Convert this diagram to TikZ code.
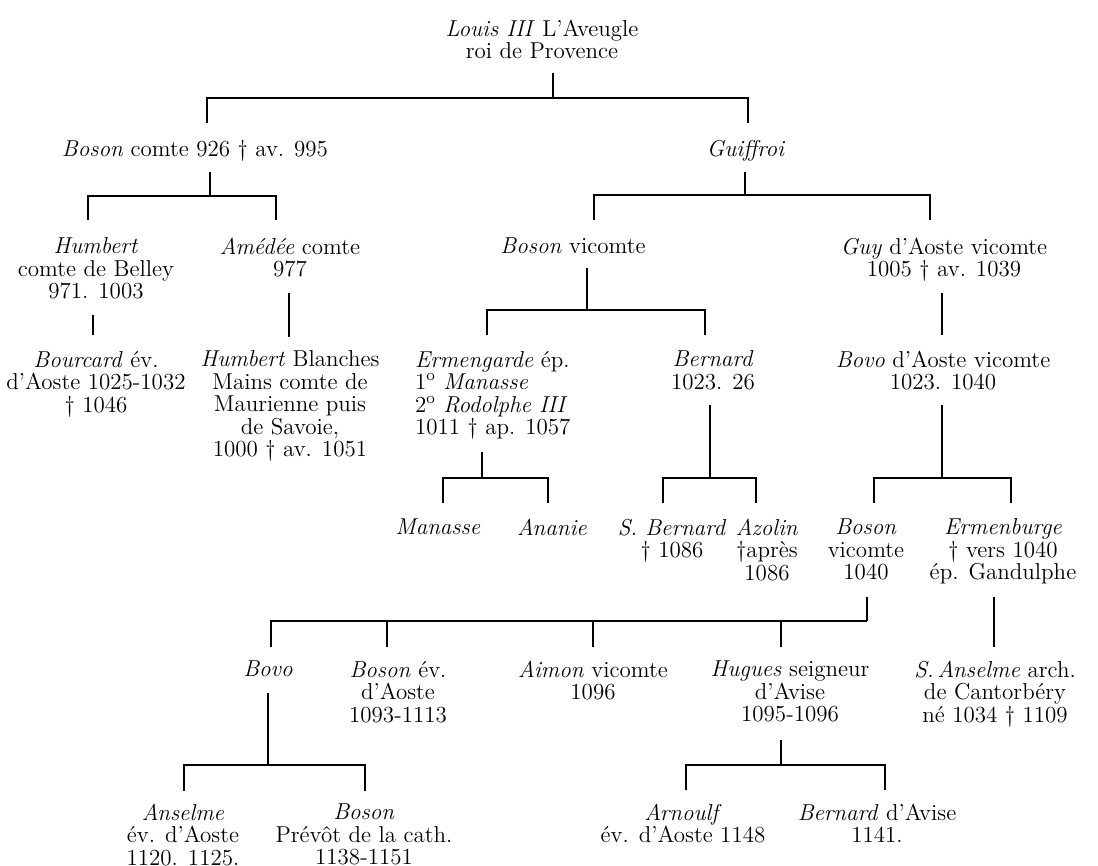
\documentclass[tikz,border=0pt]{standalone}
\usepackage{fontspec}

\begin{document}
\begin{tikzpicture}[x=0.5pt,y=-0.5pt,line width=1pt,
  person/.style={align=center,anchor=north,inner sep=0pt,font=\fontsize{11.5}{11.25}\selectfont}]

  \useasboundingbox (0,0) rectangle (1098,866);

  % persons
  \node[person] (louis) at (542,19) {\textit{Louis III} L'Aveugle\\roi de Provence};
  \node[person] (boson) at (195,139) {\textit{Boson} comte 926 † av. 995};
  \node[person] (guiffroi) at (746,139) {\textit{Guiffroi}};

  \node[person] (humbert) at (96,237) {\textit{Humbert}\\comte de Belley\\971. 1003};
  \node[person] (amedee) at (290,237) {\textit{Amédée} comte\\977};
  \node[person] (bosonv) at (573,237) {\textit{Boson} vicomte};
  \node[person] (guy) at (944,237) {\textit{Guy} d'Aoste vicomte\\1005 † av. 1039};

  \node[person] (bourcard) at (96,350) {\textit{Bourcard} év.\\d'Aoste 1025-1032\\† 1046};
  \node[person] (humbertb) at (290,350) {\textit{Humbert} Blanches\\Mains comte de\\Maurienne puis\\de Savoie,\\1000 † av. 1051};
  \node[person,align=left,anchor=north west] (ermengarde) at (414,350) {\textit{Ermengarde} ép.\\1\smash{\textsuperscript{o}} \textit{Manasse}\\2\smash{\textsuperscript{o}} \textit{Rodolphe III}\\1011 † ap. 1057};
  \node[person] (bernard) at (713,350) {\textit{Bernard}\\1023. 26};
  \node[person] (bovo) at (943,350) {\textit{Bovo} d'Aoste vicomte\\1023. 1040};

  \node[person] (manasse) at (438,518) {\textit{Manasse}};
  \node[person] (ananie) at (552,518) {\textit{Ananie}};
  \node[person] (sbernard) at (672,518) {\textit{S. Bernard}\\† 1086};
  \node[person] (azolin) at (767,518) {\textit{Azolin}\\†après\\1086};
  \node[person] (bosonvc) at (866,518) {\textit{Boson}\\vicomte\\1040};
  \node[person] (ermenburge) at (1003,518) {\textit{Ermenburge}\\† vers 1040\\ép. Gandulphe};

  \node[person] (bovob) at (268,660) {\textit{Bovo}};
  \node[person] (bosonev) at (398,660) {\textit{Boson} év.\\d'Aoste\\1093-1113};
  \node[person] (aimon) at (593,660) {\textit{Aimon} vicomte\\1096};
  \node[person] (hugues) at (790,660) {\textit{Hugues} seigneur\\d'Avise\\1095-1096};
  \node[person] (sanselme) at (995,660) {\textit{S.\,Anselme} arch.\\de Cantorbéry\\né 1034 † 1109};

  \node[person] (anselme) at (183,803) {\textit{Anselme}\\év. d'Aoste\\1120. 1125.};
  \node[person] (bosonpr) at (364,803) {\textit{Boson}\\Prévôt de la cath.\\1138-1151};
  \node[person] (arnoulf) at (683,803) {\textit{Arnoulf}\\év. d'Aoste 1148};
  \node[person] (bernardav) at (877,803) {\textit{Bernard} d'Avise\\1141.};

  % line ends: -t top of a parent's tick, -j its bar, -d foot of a child's drop
  \foreach \n/\x/\y in {louis-t/553/73, louis-j/553/98, boson-d/207/123, guiffroi-d/748/123,
      boson-t/210/172, boson-j/210/196, humbert-d/88/220, amedee-d/276/220,
      guiffroi-t/745/172, guiffroi-j/745/195, bosonv-d/594/220, guy-d/930/220,
      humbert-t/93/315, bourcard-d/93/335, amedee-t/289/293, humbertb-d/289/337,
      bosonv-t/587/268, bosonv-j/587/310, ermengarde-d/487/335, bernard-d/705/335,
      guy-t/942/293, bovo-d/942/335,
      ermengarde-t/482/452, ermengarde-j/482/478, manasse-d/443/503, ananie-d/548/503,
      bernard-t/710/405, bernard-j/710/478, sbernard-d/663/503, azolin-d/756/503,
      bovo-t/942/405, bovo-j/942/478, bosonvc-d/874/503, ermenburge-d/1011/503,
      bosonvc-t/867/597, bosonvc-j/867/621, bovob-d/271/647, bosonev-d/387/647,
      aimon-d/593/647, hugues-d/781/647, ermenburge-t/994/597, sanselme-d/994/647,
      bovob-t/268/693, bovob-j/268/765, anselme-d/184/791, bosonpr-d/365/791,
      hugues-t/781/740, hugues-j/781/765, arnoulf-d/686/790, bernardav-d/885/790}
    \coordinate (\n) at (\x,\y);

  % families
  \draw (louis-t) -- (louis-j);
  \draw (boson-d) |- (louis-j) -| (guiffroi-d);

  \draw (boson-t) -- (boson-j);
  \draw (humbert-d) |- (boson-j) -| (amedee-d);

  \draw (guiffroi-t) -- (guiffroi-j);
  \draw (bosonv-d) |- (guiffroi-j) -| (guy-d);

  \draw (humbert-t) -- (bourcard-d);
  \draw (amedee-t) -- (humbertb-d);
  \draw (guy-t) -- (bovo-d);

  \draw (bosonv-t) -- (bosonv-j);
  \draw (ermengarde-d) |- (bosonv-j) -| (bernard-d);

  \draw (ermengarde-t) -- (ermengarde-j);
  \draw (manasse-d) |- (ermengarde-j) -| (ananie-d);

  \draw (bernard-t) -- (bernard-j);
  \draw (sbernard-d) |- (bernard-j) -| (azolin-d);

  \draw (bovo-t) -- (bovo-j);
  \draw (bosonvc-d) |- (bovo-j) -| (ermenburge-d);

  \draw (bosonvc-t) -- (bosonvc-j);
  \draw (bovob-d) |- (bosonvc-j);
  \foreach \c in {bosonev,aimon,hugues}
    \draw (\c-d) -- (\c-d |- bosonvc-j);
  \draw (ermenburge-t) -- (sanselme-d);

  \draw (bovob-t) -- (bovob-j);
  \draw (anselme-d) |- (bovob-j) -| (bosonpr-d);

  \draw (hugues-t) -- (hugues-j);
  \draw (arnoulf-d) |- (hugues-j) -| (bernardav-d);
\end{tikzpicture}
\end{document}
